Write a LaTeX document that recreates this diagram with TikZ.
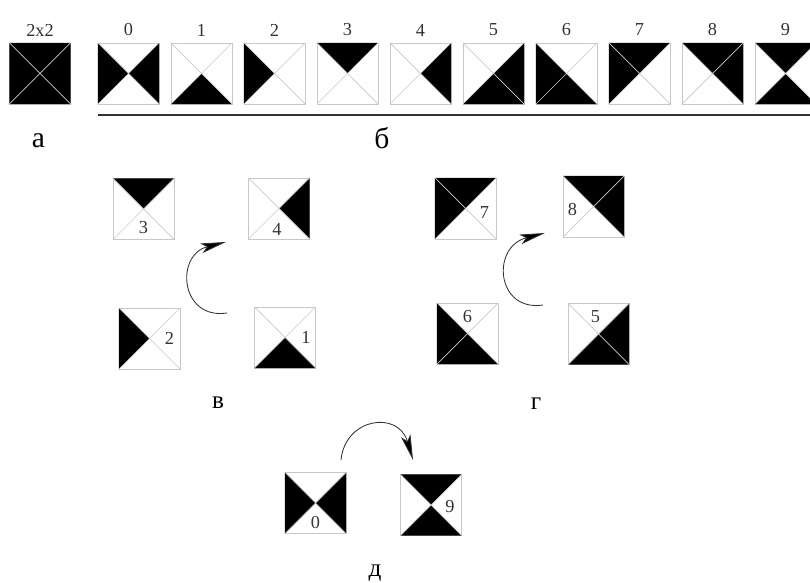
\documentclass[tikz,border=0pt]{standalone}
\usepackage{fontspec}
\setmainfont{Liberation Serif}
\usepackage{tikz}
\usetikzlibrary{arrows.meta}
\definecolor{tilegray}{RGB}{200,200,200}
\definecolor{inkgray}{RGB}{50,50,50}

% tile: name, x, y, black sides (0=right, 90=top, 180=left, 270=bottom)
\newcommand{\quadtile}[4]{%
  \node[tile] (#1) at (#2,#3) {};
  \foreach \a in {#4}
    \fill[black, shift={(#1.center)}, rotate=\a] (0,0) -- (0.7625cm,0.7625cm) -- (0.7625cm,-0.7625cm) -- cycle;
  \draw[diag] (#1.north west) -- (#1.south east) (#1.north east) -- (#1.south west);
}

\begin{document}
\begin{tikzpicture}[
    x=0.025cm, y=-0.025cm,
    tile/.style={rectangle, draw=tilegray, line width=0.6pt, minimum size=1.525cm, inner sep=0pt, outer sep=0pt},
    diag/.style={tilegray, line width=0.5pt},
    num/.style={inner sep=0pt, text=inkgray, font=\fontsize{13}{15}\selectfont},
    letter/.style={inner sep=0pt, font=\fontsize{21}{24}\selectfont},
    sublabel/.style={inner sep=0pt, font=\fontsize{18}{20}\selectfont},
    rotarrow/.style={draw=inkgray, line width=0.6pt, -{Stealth[length=18pt, width=7pt, inset=4pt, fill=black]}}
]
\clip (0,0) rectangle (810,583);

% a) full block
\quadtile{a}{40}{73.5}{0,90,180,270}
\node[num] (a-lab) at (40,30) {2x2};
\node[letter] (a-cap) at (38.5,140.5) {а};

% b) all ten tiles
\quadtile{b0}{128.5}{73.5}{0,180}
\quadtile{b1}{201.5}{73.5}{270}
\quadtile{b2}{274.5}{73.5}{180}
\quadtile{b3}{347.5}{73.5}{90}
\quadtile{b4}{420.5}{73.5}{0}
\quadtile{b5}{493.5}{73.5}{0,270}
\quadtile{b6}{566.5}{73.5}{180,270}
\quadtile{b7}{639.5}{73.5}{90,180}
\quadtile{b8}{712.5}{73.5}{90,0}
\quadtile{b9}{785.5}{73.5}{90,270}
\foreach \i in {0,...,9}
  \node[num] (b\i-lab) at (128.5+73*\i,30) {\i};
\coordinate (rule-l) at (98,115);
\coordinate (rule-r) at (812,115);
\draw[inkgray, line width=0.8pt] (rule-l) -- (rule-r);
\node[letter] (b-cap) at (382,138.5) {б};

% v) one-triangle tiles
\quadtile{v3}{143.5}{209}{90}
\quadtile{v4}{279}{208.5}{0}
\quadtile{v2}{149.5}{338.5}{180}
\quadtile{v1}{285}{337.5}{270}
\node[num] (v3-lab) at ([shift={(0,19)}]v3.center) {3};
\node[num] (v4-lab) at ([shift={(-2,21)}]v4.center) {4};
\node[num] (v2-lab) at ([shift={(20,0)}]v2.center) {2};
\node[num] (v1-lab) at ([shift={(21,0)}]v1.center) {1};
\coordinate (v-from) at (227,313);
\coordinate (v-to) at (226,242);
\draw[rotarrow] (v-from) .. controls (180,320) and (175,255) .. (v-to);
\node[sublabel] (v-cap) at (218,403) {в};

% g) two-triangle corner tiles
\quadtile{g7}{465.5}{208.5}{90,180}
\quadtile{g8}{593.5}{206.5}{90,0}
\quadtile{g6}{467.5}{333.5}{180,270}
\quadtile{g5}{598.5}{334}{0,270}
\node[num] (g7-lab) at ([shift={(19,4)}]g7.center) {7};
\node[num] (g8-lab) at ([shift={(-21,3)}]g8.center) {8};
\node[num] (g6-lab) at ([shift={(0,-17)}]g6.center) {6};
\node[num] (g5-lab) at ([shift={(-3,-17)}]g5.center) {5};
\coordinate (g-from) at (543,305);
\coordinate (g-to) at (545,233);
\draw[rotarrow] (g-from) .. controls (496,312) and (491,247) .. (g-to);
\node[sublabel] (g-cap) at (536,404) {г};

% d) opposite-triangle tiles
\quadtile{d0}{315.5}{503}{0,180}
\quadtile{d9}{431}{505}{90,270}
\node[num] (d0-lab) at ([shift={(0,20)}]d0.center) {0};
\node[num] (d9-lab) at ([shift={(19,2)}]d9.center) {9};
\coordinate (d-from) at (341,460);
\coordinate (d-to) at (413,460);
\draw[rotarrow] (d-from) .. controls (345,418) and (398,410) .. (d-to);
\node[sublabel] (d-cap) at (375,573) {д};
\end{tikzpicture}
\end{document}
